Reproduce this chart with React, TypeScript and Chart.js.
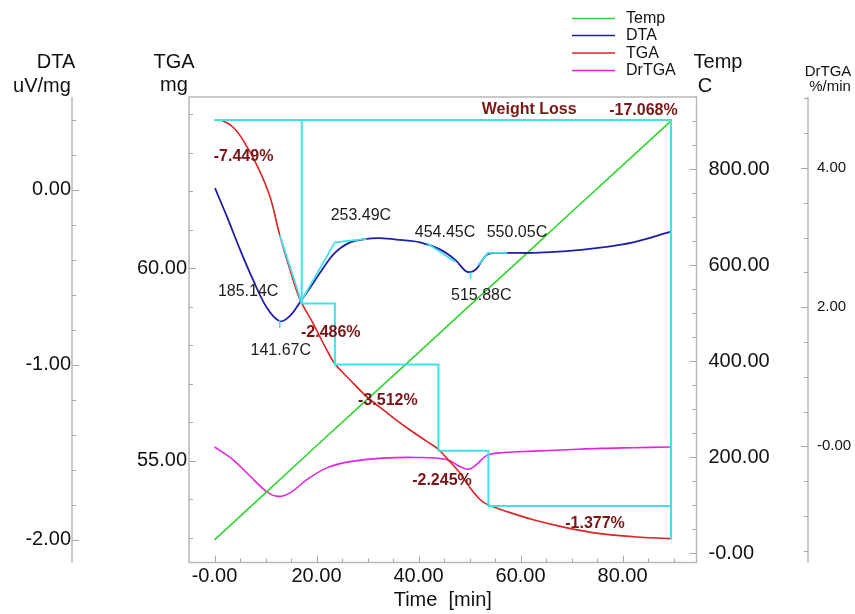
import React, { useEffect, useRef } from "react";
import { Chart, registerables } from "chart.js";

Chart.register(...registerables);

const FONT = '"Liberation Sans", Arial, Helvetica, sans-serif';

// ---------------- data (x = time in min) ----------------
const tempTime = [0, 10, 20, 30, 40, 50, 60, 70, 80, 89.5];
const tempValues = [28, 126, 224, 321, 418, 516, 613, 711, 808, 901];

const dtaTime = [0.1, 2.4, 5.0, 7.5, 10.2, 12.8, 14.8, 16.8, 18.7, 21.0, 23.6, 26.6, 29.8, 32.4, 36.4, 40.3, 44.2, 47.2, 49.1, 50.2, 51.4, 53.4, 56.0, 62.5, 69.1, 75.6, 82.1, 89.3];
const dtaValues = [0.01, -0.15, -0.34, -0.51, -0.67, -0.75, -0.72, -0.64, -0.56, -0.46, -0.36, -0.30, -0.28, -0.276, -0.286, -0.30, -0.34, -0.40, -0.46, -0.47, -0.45, -0.37, -0.36, -0.36, -0.35, -0.33, -0.30, -0.24];

const tgaTime = [0, 1.5, 3.6, 5.6, 8.5, 10.9, 12.8, 14.8, 16.8, 19.3, 21.7, 23.6, 26.6, 29.9, 33.8, 37.7, 41.7, 43.8, 45.8, 48.1, 50.1, 52.1, 53.6, 57.4, 62.5, 69.1, 75.6, 82.1, 89.3];
const tgaValues = [63.85, 63.84, 63.67, 63.33, 62.63, 61.85, 60.86, 59.96, 59.18, 58.58, 57.96, 57.52, 57.10, 56.66, 56.25, 55.86, 55.50, 55.31, 55.03, 54.69, 54.30, 53.99, 53.86, 53.68, 53.47, 53.26, 53.11, 53.03, 52.98];

const drTime = [0, 3.6, 7.0, 10.2, 12.5, 14.8, 18.1, 22.0, 26.6, 33.0, 39.6, 45.5, 48.1, 49.8, 51.4, 53.4, 56.0, 62.5, 69.1, 75.6, 82.1, 89.3];
const drValues = [-0.01, -0.19, -0.43, -0.65, -0.72, -0.67, -0.48, -0.31, -0.22, -0.17, -0.16, -0.19, -0.29, -0.33, -0.26, -0.13, -0.095, -0.07, -0.05, -0.03, -0.02, -0.01];

// weight-loss step analysis (TGA axis, mg)
const frameTime = [0, 89.5, 89.5];
const frameMass = [63.85, 63.85, 52.95];
const stepTime = [17.1, 17.1, 23.6, 23.6, 43.9, 43.9, 53.7, 53.7, 89.5];
const stepMass = [63.85, 59.09, 59.09, 57.50, 57.50, 55.26, 55.26, 53.83, 53.83];
const tgaTangentTime = [12.8, 17.1];
const tgaTangentMass = [60.86, 59.10];

// DTA tangent / peak construction lines
const dtaOnsetTime = [17.1, 23.6, 29.8];
const dtaOnsetValues = [-0.63, -0.30, -0.28];
const dtaTangent2Time = [41.6, 47.2];
const dtaTangent2Values = [-0.303, -0.411];
const dtaTangent3Time = [51.7, 53.6, 57.4];
const dtaTangent3Values = [-0.43, -0.36, -0.36];
const dtaPeak1Time = [12.8, 12.8];
const dtaPeak1Values = [-0.745, -0.79];
const dtaPeak2Time = [50.2, 50.2];
const dtaPeak2Values = [-0.47, -0.51];

// annotations
const lossLabels = ["-7.449%", "-2.486%", "-3.512%", "-2.245%", "-1.377%", "-17.068%"];
const lossLabelTime = [5.7, 22.8, 34.0, 44.6, 74.6, 84.1];
const lossLabelMass = [62.89, 58.32, 56.56, 54.48, 53.36, 64.1];
const weightLossTitle = "Weight Loss";
const peakLabels = ["253.49C", "454.45C", "550.05C", "185.14C", "141.67C", "515.88C"];
const peakLabelTime = [28.7, 45.2, 59.3, 6.6, 13.0, 52.3];
const peakLabelDTA = [-0.149, -0.246, -0.246, -0.583, -0.92, -0.606];

// tick labels
const xTickValues = [0, 20, 40, 60, 80];
const xTickLabels = ["-0.00", "20.00", "40.00", "60.00", "80.00"];
const dtaTickValues = [0, -1, -2];
const dtaTickLabels = ["0.00", "-1.00", "-2.00"];
const tgaTickValues = [60, 55];
const tgaTickLabels = ["60.00", "55.00"];
const tempTickValues = [800, 600, 400, 200, 0];
const tempTickLabels = ["800.00", "600.00", "400.00", "200.00", "-0.00"];
const drTickValues = [4, 2, 0];
const drTickLabels = ["4.00", "2.00", "-0.00"];

const seriesNames = ["Temp", "DTA", "TGA", "DrTGA"];

// ---------------- styles ----------------
const GREEN = "#2fd62f";
const BLUE = "#1f1fa6";
const RED = "#dc2222";
const MAGENTA = "#e024e0";
const CYAN = "#40e2e8";
const LOSS = "#7a1515";
const FRAME = "#b8b8b8";
const TICK = "#a8a8a8";
const legendColors = [GREEN, BLUE, RED, MAGENTA];

function line(label: string, xs: number[], ys: number[], color: string, axis: string, width: number, order: number, smooth: boolean) {
  return {
    label,
    data: xs.map((x, i) => ({ x, y: ys[i] })),
    borderColor: color,
    backgroundColor: color,
    borderWidth: width,
    pointRadius: 0,
    fill: false,
    tension: smooth ? 0.35 : 0,
    cubicInterpolationMode: "default",
    xAxisID: "x",
    yAxisID: axis,
    order,
  };
}

function yScale(position: string, min: number, max: number, vals: number[], labels: string[], width: number, size: number, padding: number) {
  return {
    type: "linear",
    position,
    min,
    max,
    grid: { display: false, drawTicks: false },
    border: { display: false },
    ticks: {
      includeBounds: false,
      autoSkip: false,
      padding,
      color: "#111",
      font: { family: FONT, size },
      callback: (_v: any, i: number) => labels[i],
    },
    afterBuildTicks: (s: any) => {
      s.ticks = vals.map((v) => ({ value: v }));
    },
    afterFit: (s: any) => {
      s.width = width;
    },
  };
}

function steps(a: number, b: number, step: number) {
  const out: number[] = [];
  for (let k = Math.ceil(a / step - 1e-9); k * step <= b + 1e-9; k++) out.push(+(k * step).toFixed(6));
  return out;
}

function seg(ctx: CanvasRenderingContext2D, x1: number, y1: number, x2: number, y2: number) {
  ctx.beginPath();
  ctx.moveTo(x1, y1);
  ctx.lineTo(x2, y2);
  ctx.stroke();
}

const overlayPlugin = {
  id: "overlay",
  beforeDatasetsDraw(chart: any) {
    const { ctx, chartArea: a, scales } = chart;
    ctx.save();
    ctx.strokeStyle = FRAME;
    ctx.lineWidth = 1.5;
    ctx.strokeRect(a.left, a.top, a.right - a.left, a.bottom - a.top);
    const xDTA = scales.yDTA.right;
    const xDr = scales.yDr.left;
    seg(ctx, xDTA, a.top, xDTA, a.bottom);
    seg(ctx, xDr, a.top, xDr, a.bottom);

    ctx.strokeStyle = TICK;
    ctx.lineWidth = 1;
    const vt = (scale: any, x0: number, dir: number, vals: number[], len: number) => {
      for (const v of vals) {
        const y = Math.round(scale.getPixelForValue(v)) + 0.5;
        if (y < a.top + 1 || y > a.bottom - 1) continue;
        seg(ctx, x0, y, x0 + dir * len, y);
      }
    };
    vt(scales.yDTA, xDTA, 1, steps(-2.2, 0.6, 0.2), 4);
    vt(scales.yDTA, xDTA, 1, dtaTickValues, 7);
    vt(scales.yTGA, a.left, 1, steps(52, 65, 1), 4);
    vt(scales.yTGA, a.left, 1, tgaTickValues, 7);
    vt(scales.yTemp, a.right, -1, steps(-50, 1000, 50), 4);
    vt(scales.yTemp, a.right, -1, tempTickValues, 7);
    vt(scales.yDr, xDr, -1, steps(-2, 5.5, 0.5), 4);
    vt(scales.yDr, xDr, -1, drTickValues, 7);
    const xs = scales.x;
    const ht = (vals: number[], len: number) => {
      for (const v of vals) {
        const x = Math.round(xs.getPixelForValue(v)) + 0.5;
        if (x < a.left + 1 || x > a.right - 1) continue;
        seg(ctx, x, a.bottom, x, a.bottom - len);
      }
    };
    ht(steps(-5, 95, 5), 4);
    ht(xTickValues, 7);
    ctx.restore();
  },
  afterDraw(chart: any) {
    const { ctx, chartArea: a, scales } = chart;
    const xs = scales.x;
    ctx.save();
    ctx.textAlign = "center";
    ctx.textBaseline = "middle";

    // weight loss annotations
    ctx.fillStyle = LOSS;
    ctx.font = `bold 16px ${FONT}`;
    lossLabels.forEach((t, i) => {
      ctx.fillText(t, xs.getPixelForValue(lossLabelTime[i]), scales.yTGA.getPixelForValue(lossLabelMass[i]));
    });
    ctx.fillText(weightLossTitle, xs.getPixelForValue(61.7), scales.yTGA.getPixelForValue(64.13));

    // peak temperatures
    ctx.fillStyle = "#1c1c1c";
    ctx.font = `16px ${FONT}`;
    peakLabels.forEach((t, i) => {
      ctx.fillText(t, xs.getPixelForValue(peakLabelTime[i]), scales.yDTA.getPixelForValue(peakLabelDTA[i]));
    });

    // axis titles
    ctx.fillStyle = "#111";
    ctx.textBaseline = "alphabetic";
    ctx.font = `20px ${FONT}`;
    ctx.fillText("DTA", 56, 68);
    ctx.fillText("uV/mg", 42, 92);
    ctx.fillText("TGA", 174, 68);
    ctx.fillText("mg", 174, 91);
    ctx.fillText("Temp", 718, 68);
    ctx.fillText("C", 705, 92);
    ctx.fillText("Time  [min]", (a.left + a.right) / 2, 606);
    ctx.font = `15px ${FONT}`;
    ctx.fillText("DrTGA", 828, 76);
    ctx.fillText("%/min", 830, 91);

    // legend
    ctx.font = `16px ${FONT}`;
    ctx.textAlign = "left";
    ctx.textBaseline = "middle";
    ctx.lineWidth = 1.6;
    const ly = [18.5, 35.5, 53, 70.5];
    seriesNames.forEach((n, i) => {
      ctx.strokeStyle = legendColors[i];
      seg(ctx, 572, ly[i], 615, ly[i]);
      ctx.fillStyle = "#111";
      ctx.fillText(n, 626, ly[i] + 0.5);
    });
    ctx.restore();
  },
};

export default function App() {
  const ref = useRef<HTMLCanvasElement>(null);

  useEffect(() => {
    const canvas = ref.current;
    if (!canvas) return;
    const datasets: any[] = [
      line("dtaPeak1", dtaPeak1Time, dtaPeak1Values, CYAN, "yDTA", 1.6, 0, false),
      line("dtaPeak2", dtaPeak2Time, dtaPeak2Values, CYAN, "yDTA", 1.6, 0, false),
      line("dtaOnset", dtaOnsetTime, dtaOnsetValues, CYAN, "yDTA", 1.8, 0, false),
      line("dtaTangent2", dtaTangent2Time, dtaTangent2Values, CYAN, "yDTA", 1.8, 0, false),
      line("dtaTangent3", dtaTangent3Time, dtaTangent3Values, CYAN, "yDTA", 1.8, 0, false),
      line("tgaTangent", tgaTangentTime, tgaTangentMass, CYAN, "yTGA", 1.8, 0, false),
      line("steps", stepTime, stepMass, CYAN, "yTGA", 2, 0, false),
      line("frame", frameTime, frameMass, CYAN, "yTGA", 2, 0, false),
      line("TGA", tgaTime, tgaValues, RED, "yTGA", 1.6, 1, true),
      line("DTA", dtaTime, dtaValues, BLUE, "yDTA", 1.8, 2, true),
      line("Temp", tempTime, tempValues, GREEN, "yTemp", 1.6, 3, false),
      line("DrTGA", drTime, drValues, MAGENTA, "yDr", 1.6, 4, true),
    ];

    const chart = new Chart(canvas, {
      type: "line",
      data: { datasets },
      options: {
        responsive: false,
        animation: false,
        devicePixelRatio: 1,
        layout: { padding: { top: 97, left: 0, right: 0, bottom: 0 } },
        plugins: { legend: { display: false }, tooltip: { enabled: false } },
        elements: { point: { radius: 0 } },
        scales: {
          x: {
            type: "linear",
            position: "bottom",
            min: -5.0,
            max: 94.5,
            grid: { display: false, drawTicks: false },
            border: { display: false },
            ticks: {
              includeBounds: false,
              autoSkip: false,
              maxRotation: 0,
              padding: 2,
              color: "#111",
              font: { family: FONT, size: 20 },
              callback: (_v: any, i: number) => xTickLabels[i],
            },
            afterBuildTicks: (s: any) => {
              s.ticks = xTickValues.map((v) => ({ value: v }));
            },
            afterFit: (s: any) => {
              s.height = 51.5;
            },
          },
          yTGA: yScale("left", 52.36, 64.45, tgaTickValues, tgaTickLabels, 117, 20, 2),
          yDTA: yScale("left", -2.129, 0.531, dtaTickValues, dtaTickLabels, 72, 20, 1),
          yTemp: yScale("right", -19.2, 950.6, tempTickValues, tempTickLabels, 111.5, 20, 12),
          yDr: yScale("right", -1.67, 5.02, drTickValues, drTickLabels, 47, 15, 9),
        } as any,
      } as any,
      plugins: [overlayPlugin as any],
    });
    return () => chart.destroy();
  }, []);

  return (
    <div style={{ position: "absolute", left: 0, top: 0, width: 855, height: 614, background: "#fff" }}>
      <canvas ref={ref} width={855} height={614} style={{ display: "block", width: "855px", height: "614px" }} />
    </div>
  );
}
